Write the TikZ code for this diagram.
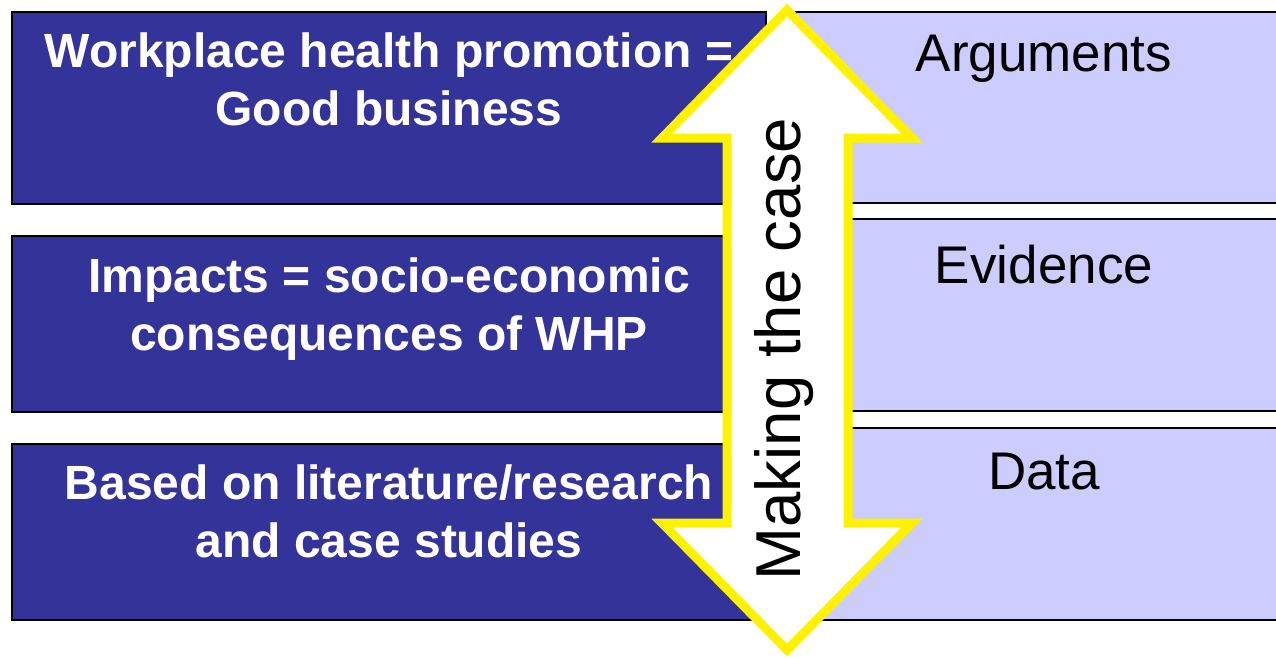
\documentclass[tikz,border=0pt]{standalone}
\usepackage{fontspec}
\setmainfont{Liberation Sans}
\usetikzlibrary{positioning}
\definecolor{darkblue}{HTML}{333399}
\definecolor{paleblue}{HTML}{CCCCFF}
\begin{document}
\begin{tikzpicture}[x=1pt, y=-1pt,
	darkbox/.style={draw=black, line width=2pt, fill=darkblue, minimum width=754pt, inner sep=0pt, anchor=north west},
	palebox/.style={draw=black, line width=2pt, fill=paleblue, minimum width=496pt, minimum height=192pt, inner sep=0pt, anchor=north west},
	whitetxt/.style={text=white, inner sep=0pt, align=center, font=\fontsize{48}{58}\selectfont\bfseries},
	blacktxt/.style={text=black, inner sep=0pt, font=\fontsize{53}{64}\selectfont}]
	\useasboundingbox (0,0) rectangle (1276,657);
	% boxes on the left
	\node[darkbox, minimum height=192pt] (b1) at (11,11) {};
	\node[darkbox, minimum height=176pt] (b2) at (11,235) {};
	\node[darkbox, minimum height=176pt] (b3) at (11,443) {};
	% boxes on the right
	\node[palebox, minimum height=191pt] (r1) at (795,11) {};
	\node[palebox] (r2) at (795,218) {};
	\node[palebox] (r3) at (795,427) {};
	\node[whitetxt, below=22pt of b1.north] (t1) {Workplace health promotion =\\Good business};
	\node[whitetxt, below=23pt of b2.north] (t2) {Impacts = socio-economic\\consequences of WHP};
	\node[whitetxt, below=22pt of b3.north] (t3) {Based on literature/research\\and case studies};
	\node[blacktxt, below=24pt of r1.north] (s1) {Arguments};
	\node[blacktxt, below=27pt of r2.north] (s2) {Evidence};
	\node[blacktxt, below=26pt of r3.north] (s3) {Data};
	% double arrow
	\draw[yellow, line width=9pt, line join=miter, fill=white]
		(787,10) -- (912,138) -- (848,138) -- (848,523) -- (912,523) -- (787,650)
		-- (662,523) -- (727,523) -- (727,138) -- (662,138) -- cycle;
	\node[rotate=90, inner sep=0pt, font=\fontsize{63.5}{76}\selectfont] (mk) at (784,349) {Making the case};
\end{tikzpicture}
\end{document}
